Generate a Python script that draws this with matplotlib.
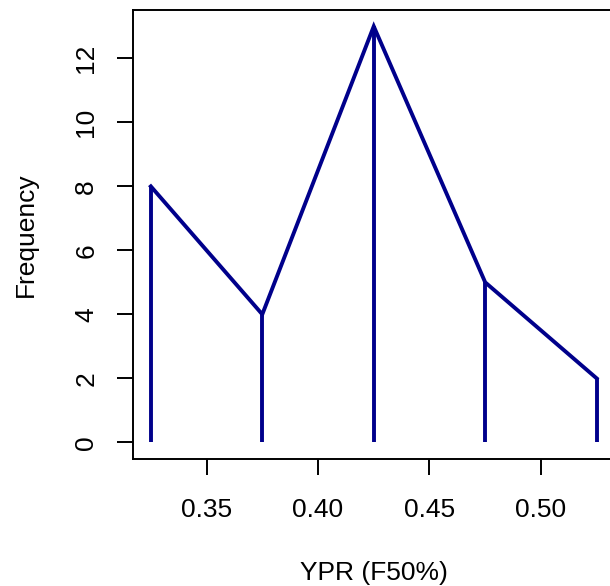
import matplotlib
matplotlib.use("Agg")
import matplotlib.pyplot as plt

ypr = [0.325, 0.375, 0.425, 0.475, 0.525]
freq = [8, 4, 13, 5, 2]
xticks = [0.35, 0.40, 0.45, 0.50]
xticklabels = ["0.35", "0.40", "0.45", "0.50"]
yticks = [0, 2, 4, 6, 8, 10, 12]

plt.rcParams['font.family'] = ['Liberation Sans', 'DejaVu Sans']
W, H = 610, 586
fig = plt.figure(figsize=(W / 100, H / 100), dpi=100)
left, right, top, bottom = 133, 614.5, 9.7, 459
ax = fig.add_axes([left / W, 1 - bottom / H, (right - left) / W, (bottom - top) / H])

col = "#00008B"
ax.plot(ypr, freq, color=col, lw=2.8, solid_joinstyle='miter', clip_on=False)
ax.vlines(ypr, 0, freq, color=col, lw=2.8)

ax.set_xlim(0.317, 0.533)
ax.set_ylim(-0.52, 13.52)
ax.set_xticks(xticks)
ax.set_xticklabels(xticklabels)
ax.set_yticks(yticks)
ax.set_yticklabels([str(v) for v in yticks], rotation=90, va='center')
ax.tick_params(length=11.5, width=1.4, labelsize=19, color='black')
ax.tick_params(axis='x', pad=16.5)
ax.tick_params(axis='y', pad=13.5)
for s in ax.spines.values():
    s.set_linewidth(1.4)

ax.set_xlabel("YPR (F50%)", fontsize=19, labelpad=28)
ax.set_ylabel("Frequency", fontsize=19, labelpad=26.5)

fig.savefig("out.png", dpi=100)
